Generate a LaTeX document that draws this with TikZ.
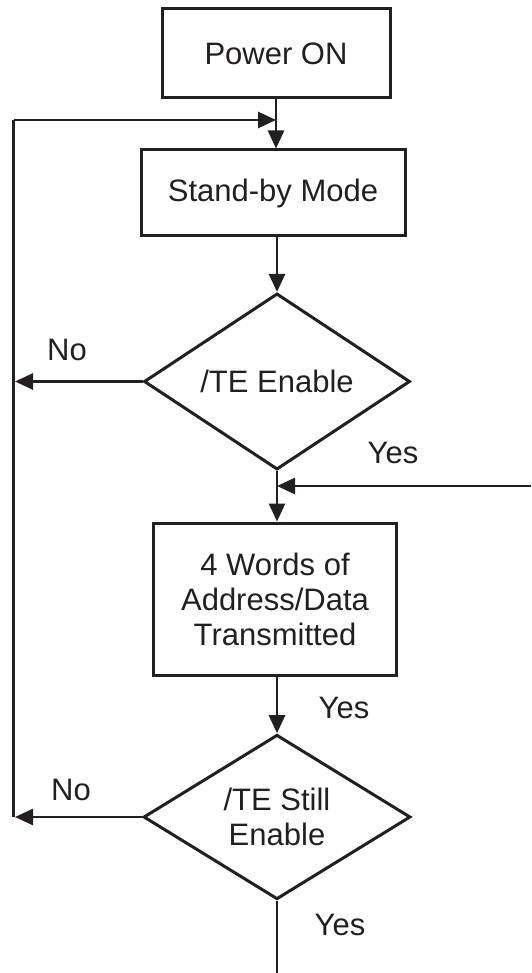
\documentclass[tikz,border=0pt]{standalone}
\usepackage{fontspec}
\setmainfont{Liberation Sans}
\usetikzlibrary{shapes.geometric,arrows.meta}
\definecolor{ink}{HTML}{231F20}
\begin{document}
\begin{tikzpicture}[x=1pt,y=-1pt,
  every node/.style={text=ink, font=\fontsize{31}{35}\selectfont},
  procbox/.style={draw=ink, line width=3pt, rectangle, inner sep=0pt, align=center},
  decide/.style={draw=ink, line width=3pt, diamond, inner sep=0pt, align=center},
  lbl/.style={inner sep=0pt},
  conn/.style={draw=ink, line width=2.8pt},
  arr/.style={conn, -{Triangle[length=18pt,width=16pt]}}
]
\useasboundingbox (0,0) rectangle (531,973);

\node[procbox, minimum width=228pt, minimum height=89pt] (pwr) at (276,53.5) {Power ON};
\node[procbox, minimum width=264pt, minimum height=86pt] (sby) at (273,193) {Stand-by Mode};
\node[decide, minimum width=266pt, minimum height=162pt] (d1) at (277,381.5) {/TE Enable};
\node[procbox, minimum width=243pt, minimum height=152pt] (box) at (275,599) {4 Words of\\Address/Data\\Transmitted};
\node[decide, minimum width=267pt, minimum height=162pt] (d2) at (277,817) {/TE Still\\Enable};

\node[lbl] (no1) at (67,350) {No};
\node[lbl] (yes1) at (393,453) {Yes};
\node[lbl] (yes2) at (344,708) {Yes};
\node[lbl] (no2) at (71,790) {No};
\node[lbl] (yes3) at (340,925) {Yes};

\coordinate (lt) at (13.5,120);
\coordinate (lb) at (13.5,817);
\coordinate (rr) at (531,486);
\coordinate (bot) at (277,973);
\coordinate (j1) at (276,120);
\coordinate (j2) at (277,486);
\coordinate (lh1) at (15,381.5);
\coordinate (lh2) at (15,817);

\draw[arr] (pwr.south) -- (pwr.south |- sby.north);
\draw[conn] (lb) -- (lt);
\draw[arr] (lt) -- (j1);
\draw[arr] (d1.north |- sby.south) -- (d1.north);
\draw[arr] (d1.west) -- (lh1);
\draw[arr] (d1.south) -- (d1.south |- box.north);
\draw[arr] (rr) -- (j2);
\draw[arr] (d2.north |- box.south) -- (d2.north);
\draw[arr] (d2.west) -- (lh2);
\draw[conn] (d2.south) -- (bot);
\end{tikzpicture}
\end{document}
